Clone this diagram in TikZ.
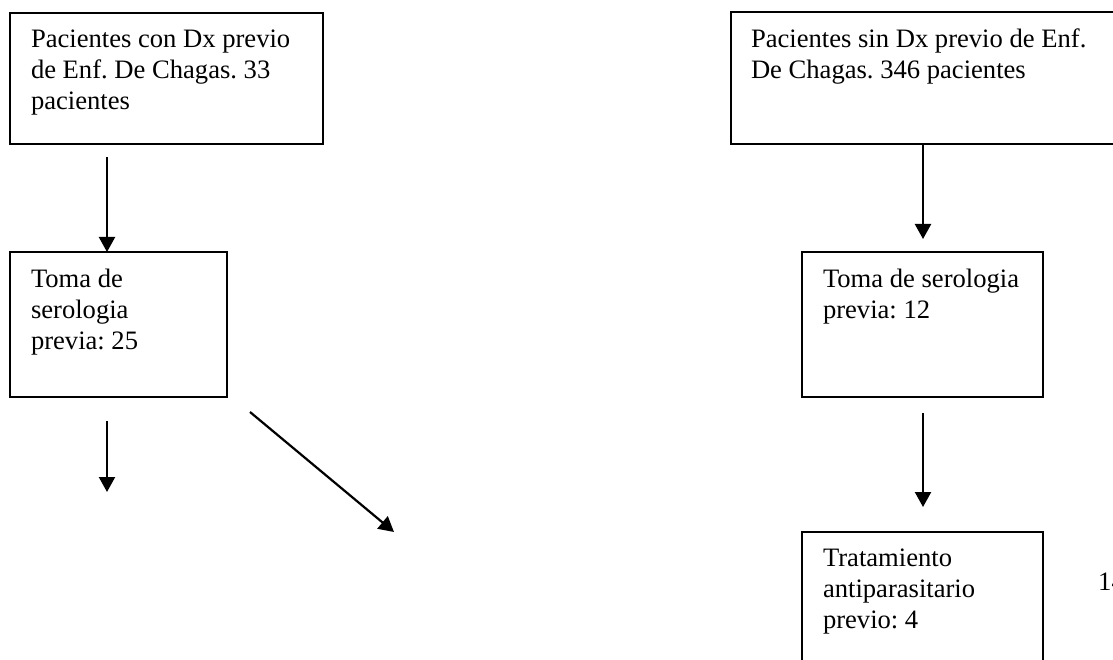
\documentclass[tikz,border=0pt]{standalone}
\usepackage{fontspec}
\setmainfont{Liberation Serif}
\usetikzlibrary{arrows.meta,calc}
\frenchspacing
\newcommand\boxtxt[4]{\parbox[t][#2][t]{#1}{\raggedright\leftskip=#3\relax\vspace*{17pt}#4}}
\tikzset{
  every node/.style={font=\fontsize{26.6}{31}\selectfont},
  flowbox/.style={draw, rectangle, line width=1.7pt, inner sep=0pt, outer sep=0pt, anchor=north west},
  arr/.style={line width=2.2pt, -{Triangle[length=15pt,width=16pt]}}
}
\begin{document}
\begin{tikzpicture}[x=1pt,y=-1pt]
\useasboundingbox (0,0) rectangle (1113,660);
\fill[white] (0,0) rectangle (1113,660);
\clip (0,0) rectangle (1113,660);
\node[flowbox] (a) at (10,13) {\boxtxt{313pt}{131pt}{21pt}{Pacientes con Dx previo\\de Enf. De Chagas. 33\\pacientes}};
\node[flowbox] (b) at (10,252) {\boxtxt{217pt}{145pt}{21pt}{Toma de\\serologia\\previa: 25}};
\node[flowbox] (c) at (731,12) {\boxtxt{400pt}{132pt}{20pt}{Pacientes sin Dx previo de Enf.\\De Chagas. 346 pacientes}};
\node[flowbox] (d) at (802,252) {\boxtxt{241pt}{145pt}{21pt}{Toma de serologia\\previa: 12}};
\node[flowbox] (e) at (802,532) {\boxtxt{241pt}{170pt}{21pt}{Tratamiento\\antiparasitario\\previo: 4}};
\node[anchor=base west, inner sep=0pt] (n14) at (1098,590) {14};
\coordinate (p1) at (107,492);
\coordinate (p2) at (394,532);
\draw[arr] ([xshift=97pt,yshift=-13pt]a.south west) -- ([xshift=97pt]b.north west);
\draw[arr] ([xshift=97pt,yshift=-24pt]b.south west) -- (p1);
\draw[arr] ([xshift=240pt,yshift=-15pt]b.south west) -- (p2);
\draw[arr] ([xshift=192pt]c.south west) -- ([xshift=121pt,yshift=13pt]d.north west);
\draw[arr] ([xshift=121pt,yshift=-16pt]d.south west) -- ([xshift=121pt,yshift=25pt]e.north west);
\end{tikzpicture}
\end{document}
